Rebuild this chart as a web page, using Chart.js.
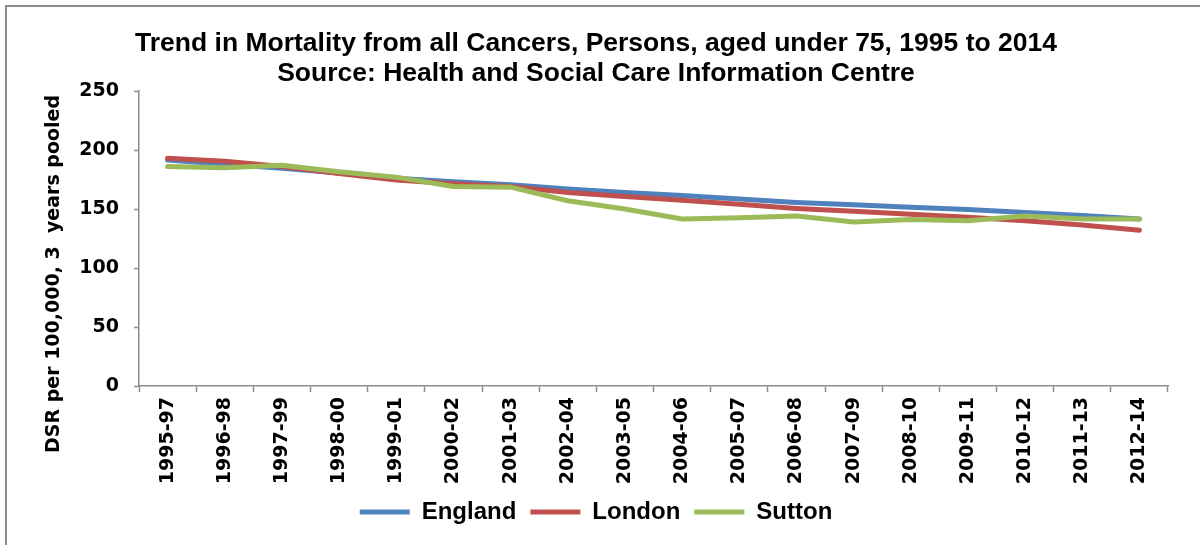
<!DOCTYPE html>
<html><head><meta charset="utf-8">
<script src="https://cdn.jsdelivr.net/npm/chart.js@4.4.1/dist/chart.umd.min.js"></script>
<style>
html,body{margin:0;padding:0;background:#fff;overflow:hidden;}
#wrap{position:relative;width:1200px;height:545px;}
#frame{position:absolute;left:5px;top:5px;width:1300px;height:700px;border-left:2px solid #8c8c8c;border-top:2px solid #8c8c8c;pointer-events:none;}
canvas{position:absolute;left:0;top:0;}
</style></head><body>
<div id="wrap"><canvas id="c" width="1200" height="545"></canvas><div id="frame"></div></div>
<script>
const categories = ['1995-97','1996-98','1997-99','1998-00','1999-01','2000-02','2001-03','2002-04','2003-05','2004-06','2005-07','2006-08','2007-09','2008-10','2009-11','2010-12','2011-13','2012-14'];
const england = [191.5,188,184.5,180.5,176,173,170.5,167,164,161.5,158.5,155.5,153.5,151.5,149.5,147,144.5,141.5];
const london  = [193,190.5,186,180,174.5,171.5,169,164,160.5,157.5,154,150.5,148,145.5,143,140,136.5,132];
const sutton  = [186,185,187,181.5,177,169,168.5,157,150,141.5,142.5,144,139,141,140,144,141.5,141.5];
const yMin = 0, yMax = 250, yStep = 50;
const titleLines = ['Trend in Mortality from all Cancers, Persons, aged under 75, 1995 to 2014','Source: Health and Social Care Information Centre'];
const yAxisTitle = 'DSR per 100,000, 3  years pooled';

const AXIS = '#8c8c8c';
Chart.defaults.color = '#000';

const yTitlePlugin = {
  id: 'yTitle',
  afterDraw(chart) {
    const ctx = chart.ctx, a = chart.chartArea;
    ctx.save();
    ctx.translate(a.left - 85, a.bottom - 112);
    ctx.rotate(-Math.PI / 2);
    ctx.font = 'bold 19px "DejaVu Sans"';
    ctx.fillStyle = '#000';
    ctx.textAlign = 'center';
    ctx.textBaseline = 'middle';
    ctx.fillText(yAxisTitle, 0, 0);
    ctx.restore();
  }
};

function ds(label, data, color, order) {
  return {label, data, borderColor: color, backgroundColor: color, borderWidth: 5,
    pointRadius: 0, pointHoverRadius: 0, tension: 0, fill: false,
    borderCapStyle: 'round', borderJoinStyle: 'round', order};
}

new Chart(document.getElementById('c'), {
  type: 'line',
  data: {
    labels: categories,
    datasets: [
      ds('England', england, '#4F81BD', 2),
      ds('London', london, '#C0504D', 1),
      ds('Sutton', sutton, '#9BBB59', 0)
    ]
  },
  options: {
    responsive: false,
    devicePixelRatio: 1,
    animation: false,
    layout: {padding: {left: 24, right: 32, top: 0, bottom: 11}},
    plugins: {
      tooltip: {enabled: false},
      title: {
        display: true, text: titleLines, color: '#000',
        font: {family: '"Liberation Sans", Arial, sans-serif', size: 26.5, weight: 'bold', lineHeight: '30px'},
        padding: {top: 29, bottom: 2}
      },
      legend: {
        position: 'bottom',
        labels: {
          sort: (a, b) => a.datasetIndex - b.datasetIndex,
          usePointStyle: true, pointStyle: 'line', pointStyleWidth: 50,
          padding: 14, color: '#000',
          font: {family: '"Liberation Sans", Arial, sans-serif', size: 24, weight: 'bold'}
        }
      }
    },
    scales: {
      x: {
        type: 'category', offset: true,
        grid: {offset: true, drawOnChartArea: false, drawTicks: true, tickLength: 6, tickColor: AXIS, tickWidth: 1.5},
        border: {color: AXIS, width: 1.5},
        ticks: {autoSkip: false, maxRotation: 90, minRotation: 90, padding: 5, color: '#000',
          font: {family: '"DejaVu Sans"', size: 19, weight: 'bold'}},
        afterFit(s) { s.height = 100; }
      },
      y: {
        min: yMin, max: yMax,
        grid: {drawOnChartArea: false, drawTicks: true, tickLength: 5, tickColor: AXIS, tickWidth: 1.5},
        border: {color: AXIS, width: 1.5},
        ticks: {stepSize: yStep, padding: 15, color: '#000',
          font: {family: '"DejaVu Sans"', size: 19, weight: 'bold'}},
        afterFit(s) { s.width = 115; }
      }
    }
  },
  plugins: [yTitlePlugin]
});
</script>
</body></html>
